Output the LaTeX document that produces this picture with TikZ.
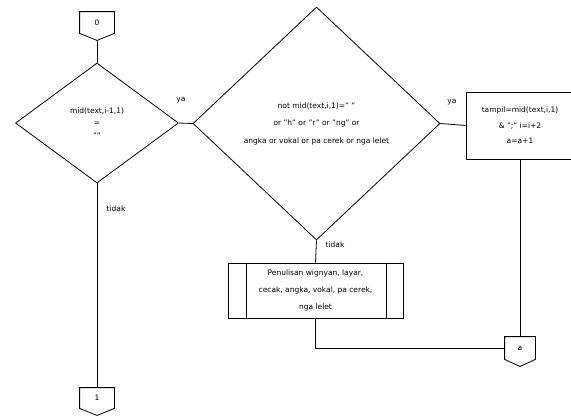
\documentclass[tikz,border=0pt]{standalone}
\usepackage{fontspec}
\setmainfont{DejaVu Sans}
\usetikzlibrary{shapes.geometric}

\begin{document}
\begin{tikzpicture}[x=1pt,y=-1pt,line width=0.8pt,
    every node/.style={inner sep=1.5pt,align=center,font=\fontsize{7.5}{12.5}\selectfont},
    keputusan/.style={diamond,draw,inner sep=0pt},
    proses/.style={rectangle,draw},
    konektor/.style={minimum width=34pt,minimum height=21pt}]
      \useasboundingbox (0,0) rectangle (571,416);
      \node[konektor] (K0) at (97,22.5) {0};
      \node[keputusan,minimum width=163pt,minimum height=120pt] (D1) at (97,123)
        {mid(text,i-1,1)\\=\\""};
      \node[keputusan,minimum width=247pt,minimum height=233pt,
        font=\fontsize{7.5}{17.5}\selectfont] (D2) at (316.5,123.5)
        {not mid(text,i,1)=" "\\or "h" or "r" or "ng" or\\angka or vokal or pa cerek or nga lelet};
      \node[proses,minimum width=108pt,minimum height=67pt,
        font=\fontsize{7.5}{15.5}\selectfont] (P1) at (520,125.5)
        {tampil=mid(text,i,1)\\\& ";" i=i+2\\a=a+1};
      \node[proses,minimum width=175pt,minimum height=55pt,
        font=\fontsize{7.5}{17}\selectfont] (PP) at (315.5,290.5)
        {Penulisan wignyan, layar,\\cecak, angka, vokal, pa cerek,\\nga lelet};
      \node[konektor,minimum height=20pt] (K1) at (97,398) {1};
      \node[konektor,minimum width=30pt,minimum height=22pt] (Ka) at (520,348) {a};
      % garis dalam proses terdefinisi
      \draw ([xshift=19pt]PP.north west) -- ([xshift=19pt]PP.south west);
      \draw ([xshift=-17pt]PP.north east) -- ([xshift=-17pt]PP.south east);
      % konektor antar halaman
      \foreach \k in {K0,K1,Ka} {\draw (\k.north west) -- (\k.north east) -- (\k.south east)
        -- ([yshift=-7pt]\k.south) -- (\k.south west) -- cycle;}
      \draw ([yshift=-7pt]K0.south) -- (D1.north);
      \draw (D1.east) -- (D2.west);
      \draw (D1.south) -- (K1.north);
      \draw (D2.east) -- (P1.west);
      \draw (D2.south) -- (PP.north);
      \draw (P1.south) -- (Ka.north);
      \draw (PP.south) |- (Ka.west);
      \node (ya1) at (181,100) {ya};
      \node (ya2) at (452,102) {ya};
      \node (td1) at (116,209) {tidak};
      \node (td2) at (335,245) {tidak};
    \end{tikzpicture}
\end{document}
